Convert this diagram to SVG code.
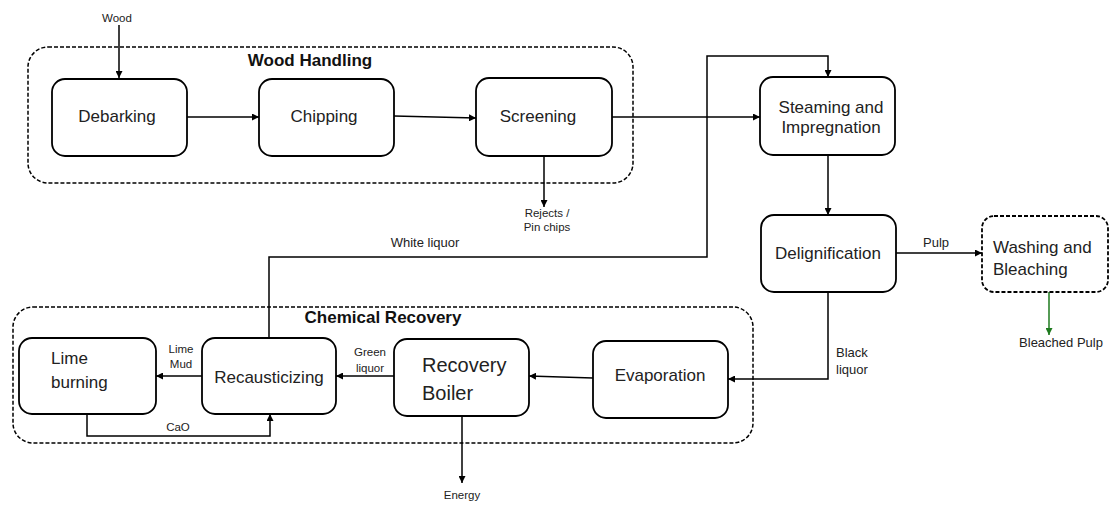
<svg xmlns="http://www.w3.org/2000/svg" width="1110" height="505" viewBox="0 0 1110 505">
<style>
.node{fill:#fff;stroke:#000;stroke-width:1.8}
.group{fill:none;stroke:#000;stroke-width:1.5;stroke-dasharray:4 2}
.dnode{fill:#fff;stroke:#000;stroke-width:1.8;stroke-dasharray:4 2}
.conn{fill:none;stroke:#000;stroke-width:1.5}
.t{font-family:"Liberation Sans",Arial,sans-serif;font-size:17px;fill:#222}
.tb{font-family:"Liberation Sans",Arial,sans-serif;font-size:17px;font-weight:bold;fill:#111}
.s{font-family:"Liberation Sans",Arial,sans-serif;font-size:11.5px;fill:#222}
.m{font-family:"Liberation Sans",Arial,sans-serif;font-size:13px;fill:#222}
</style>
<defs>
<marker id="ah" viewBox="0 0 10 10" refX="10" refY="5" markerWidth="7" markerHeight="7" markerUnits="userSpaceOnUse" orient="auto"><path d="M0,0 L10,5 L0,10 z" fill="#000"/></marker>
<marker id="ahg" viewBox="0 0 10 10" refX="10" refY="5" markerWidth="7" markerHeight="7" markerUnits="userSpaceOnUse" orient="auto"><path d="M0,0 L10,5 L0,10 z" fill="#1e7a1e"/></marker>
</defs>

<g id="wood-handling">
<rect class="group" x="28" y="47" width="605" height="136" rx="20"/>
<text class="tb" x="310" y="66" text-anchor="middle">Wood Handling</text>
</g>
<g id="chemical-recovery">
<rect class="group" x="13" y="307" width="740" height="136" rx="20"/>
<text class="tb" x="383" y="323" text-anchor="middle">Chemical Recovery</text>
</g>

<g id="connectors">
<path class="conn" d="M119,25 V78" marker-end="url(#ah)"/>
<path class="conn" d="M187,117 H259" marker-end="url(#ah)"/>
<path class="conn" d="M394,116 L476,118" marker-end="url(#ah)"/>
<path class="conn" d="M612,117 H760" marker-end="url(#ah)"/>
<path class="conn" d="M544,156 V207" marker-end="url(#ah)"/>
<path class="conn" d="M269,338 V257 H707 V56 H828 V77" marker-end="url(#ah)"/>
<path class="conn" d="M828,155 V215" marker-end="url(#ah)"/>
<path class="conn" d="M896,253 H982" marker-end="url(#ah)"/>
<path d="M1049,292 V335" fill="none" stroke="#1e7a1e" stroke-width="1.5" marker-end="url(#ahg)"/>
<path class="conn" d="M828,292 V379 H728" marker-end="url(#ah)"/>
<path class="conn" d="M593,378 L529,376" marker-end="url(#ah)"/>
<path class="conn" d="M394,376 H336" marker-end="url(#ah)"/>
<path class="conn" d="M202,376 H156" marker-end="url(#ah)"/>
<path class="conn" d="M87,414 V436 H270 V414" marker-end="url(#ah)"/>
<path class="conn" d="M462,416 V483" marker-end="url(#ah)"/>
<text class="s" x="117" y="22" text-anchor="middle">Wood</text>
<text class="s" x="547" y="217" text-anchor="middle">Rejects /</text>
<text class="s" x="547" y="231" text-anchor="middle">Pin chips</text>
<text class="m" x="425" y="247" text-anchor="middle">White liquor</text>
<text class="m" x="936" y="247" text-anchor="middle">Pulp</text>
<text class="m" x="1061" y="347" text-anchor="middle">Bleached Pulp</text>
<text class="m" x="836" y="357">Black</text>
<text class="m" x="836" y="374">liquor</text>
<text class="s" x="181" y="353" text-anchor="middle">Lime</text>
<text class="s" x="181" y="368" text-anchor="middle">Mud</text>
<text class="s" x="370" y="356" text-anchor="middle">Green</text>
<text class="s" x="370" y="372" text-anchor="middle">liquor</text>
<text class="s" x="178" y="431" text-anchor="middle">CaO</text>
<text class="s" x="462" y="499" text-anchor="middle">Energy</text>
</g>

<g id="debarking">
<rect class="node" x="52" y="79" width="135" height="77" rx="13"/>
<text class="t" x="117" y="122" text-anchor="middle">Debarking</text>
</g>
<g id="chipping">
<rect class="node" x="259" y="79" width="135" height="77" rx="13"/>
<text class="t" x="324" y="122" text-anchor="middle">Chipping</text>
</g>
<g id="screening">
<rect class="node" x="476" y="78" width="136" height="78" rx="13"/>
<text class="t" x="538" y="122" text-anchor="middle">Screening</text>
</g>
<g id="steaming">
<rect class="node" x="760" y="77" width="135" height="78" rx="13"/>
<text class="t" x="831" y="113" text-anchor="middle">Steaming and</text>
<text class="t" x="831" y="133" text-anchor="middle">Impregnation</text>
</g>
<g id="delignification">
<rect class="node" x="761" y="215" width="135" height="77" rx="13"/>
<text class="t" x="828" y="259" text-anchor="middle">Delignification</text>
</g>
<g id="washing">
<rect class="dnode" x="982" y="216" width="126" height="76" rx="12"/>
<text class="t" x="993" y="253">Washing and</text>
<text class="t" x="993" y="275">Bleaching</text>
</g>
<g id="lime-burning">
<rect class="node" x="19" y="338" width="137" height="76" rx="13"/>
<text class="t" x="51" y="364">Lime</text>
<text class="t" x="51" y="388">burning</text>
</g>
<g id="recausticizing">
<rect class="node" x="202" y="338" width="134" height="76" rx="13"/>
<text class="t" x="269" y="383" text-anchor="middle">Recausticizing</text>
</g>
<g id="recovery-boiler">
<rect class="node" x="394" y="339" width="135" height="77" rx="13"/>
<text class="t" x="422" y="372" style="font-size:20px">Recovery</text>
<text class="t" x="422" y="400" style="font-size:20px">Boiler</text>
</g>
<g id="evaporation">
<rect class="node" x="593" y="341" width="135" height="77" rx="13"/>
<text class="t" x="660" y="381" text-anchor="middle">Evaporation</text>
</g>
</svg>
